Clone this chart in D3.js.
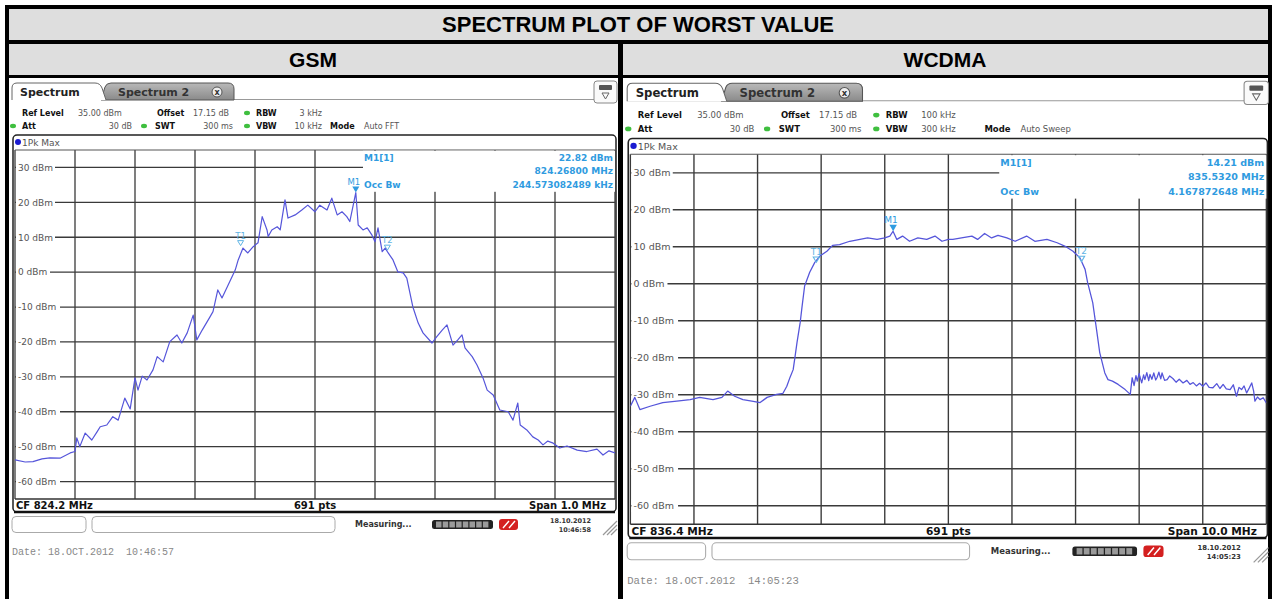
<!DOCTYPE html>
<html>
<head>
<meta charset="utf-8">
<script src="https://cdn.jsdelivr.net/npm/d3@7"></script>
<style>
body { margin: 0; background: #fff; }
svg { display: block; font-family: "DejaVu Sans", Verdana, sans-serif; }
</style>
</head>
<body>
<svg width="1272" height="599"></svg>
<script>
// level ticks of the grid (dBm), ref level 35 dBm, 10 dB/div
var levelTicks = [30, 20, 10, 0, -10, -20, -30, -40, -50, -60];

// GSM trace: offset from CF 824.2 MHz (kHz) and level (dBm)
var gsmOffsetKHz = [-500,-483,-470,-455,-442,-425,-408,-400,-397,-392,-383,-372,-363,-358,-347,-337,-328,-317,-308,-300,
  -295,-288,-280,-270,-263,-253,-242,-230,-222,-213,-203,-197,-188,-175,-170,-162,-155,-142,-133,-128,
  -120,-112,-103,-95,-88,-80,-78,-72,-63,-58,-50,-45,-33,-22,-12,0,8,20,28,37,
  45,53,58,68,72,80,87,95,100,105,112,117,122,130,138,147,153,163,172,180,
  195,203,212,220,230,238,245,250,262,270,280,287,297,308,322,330,338,342,353,363,
  372,380,388,397,408,420,437,453,470,480,490,500];
var gsmLevel = [-53.8,-54.4,-54.3,-53.5,-53.2,-53.3,-51.8,-51.4,-47.5,-50.0,-46.1,-48.1,-45.7,-44.3,-43.8,-41.4,-42.4,-36.1,-39.2,-30.3,
  -33.8,-29.8,-30.9,-28.0,-24.2,-25.7,-19.9,-18.0,-20.3,-17.4,-12.3,-19.4,-16.6,-12.8,-11.3,-5.1,-7.4,-2.7,0.6,3.5,
  6.9,5.5,7.3,8.4,15.9,12.1,10.2,12.1,13.0,12.1,20.7,15.5,16.4,17.8,19.2,17.3,19.2,17.8,21.2,16.4,
  17.3,15.9,14.5,22.8,13.5,12.1,12.7,10.6,8.7,12.7,5.9,6.9,5.5,3.5,0.1,-0.2,-1.7,-9.9,-14.6,-17.4,
  -20.3,-18.5,-16.6,-15.1,-20.9,-19.4,-18.0,-21.7,-24.2,-26.6,-30.3,-33.8,-35.2,-39.5,-40.0,-42.4,-37.5,-43.8,-45.2,-47.2,
  -48.1,-49.5,-48.4,-49.0,-50.4,-49.8,-51.0,-51.4,-50.7,-52.4,-51.2,-51.8];

// WCDMA trace: offset from CF 836.4 MHz (MHz) and level (dBm)
var wcdmaOffsetMHz = [-5.00,-4.93,-4.85,-4.69,-4.49,-4.27,-4.06,-3.91,-3.70,-3.56,-3.47,-3.36,-3.23,-3.09,-2.96,-2.85,-2.70,-2.60,-2.54,-2.49,
  -2.44,-2.41,-2.38,-2.33,-2.30,-2.26,-2.18,-2.10,-2.02,-1.91,-1.82,-1.71,-1.55,-1.39,-1.27,-1.12,-1.00,-0.92,-0.87,-0.81,
  -0.72,-0.61,-0.48,-0.34,-0.21,-0.10,0.00,0.07,0.23,0.37,0.46,0.57,0.68,0.78,0.92,1.05,1.23,1.36,1.55,1.71,
  1.83,1.96,2.07,2.15,2.19,2.27,2.33,2.38,2.46,2.51,2.58,2.67,2.78,2.86,
  2.89,2.92,2.95,2.97,3.00,3.01,3.04,3.07,3.09,3.12,3.15,3.17,3.20,3.23,3.26,3.28,3.31,3.34,3.36,3.40,
  3.44,3.48,3.53,3.58,3.63,3.69,3.75,3.80,3.85,3.90,3.95,4.00,4.05,4.10,4.16,4.22,4.27,4.32,4.37,4.43,
  4.48,4.53,4.57,4.61,4.65,4.69,4.73,4.77,4.80,4.82,4.86,4.90,4.95,5.00];
var wcdmaLevel = [-33.1,-30.7,-34.0,-33.1,-32.1,-31.7,-31.3,-30.7,-31.3,-30.7,-29.0,-30.4,-31.3,-31.7,-32.1,-30.7,-29.9,-29.6,-27.7,-25.3,
  -23.2,-19.6,-15.9,-10.5,-6.1,-0.6,3.1,5.8,7.5,8.8,10.4,10.6,11.5,12.0,12.4,12.0,12.4,12.9,14.2,12.0,
  12.9,11.5,12.4,12.0,12.9,11.5,12.0,12.0,12.5,12.9,12.0,13.6,12.4,13.1,12.4,11.5,12.9,11.5,12.0,11.1,
  10.2,8.8,7.0,3.9,0.3,-5.1,-12.4,-18.6,-24.1,-25.9,-26.3,-27.2,-28.6,-29.9,
  -25.4,-27.5,-24.8,-26.3,-24.2,-25.0,-26.8,-24.6,-25.9,-24.0,-26.2,-24.5,-25.8,-24.1,-26.0,-25.4,-23.9,-25.7,-24.1,-26.1,
  -25.9,-24.9,-25.6,-26.6,-25.8,-26.8,-26.1,-27.2,-26.7,-27.6,-26.9,-27.7,-26.8,-28.0,-28.1,-27.0,-28.3,-27.2,-28.4,-28.6,
  -27.3,-30.4,-28.0,-28.6,-27.6,-29.5,-28.2,-26.8,-29.0,-31.7,-30.6,-31.3,-30.8,-32.2];

// markers: [offset, level]
var gsmMarkers = {M1: [68, 22.82], T1: [-124, 7.6], T2: [120.6, 6.3]};
var wcdmaMarkers = {M1: [-0.868, 14.21], T1: [-2.075, 5.8], T2: [2.093, 6.0]};

var svg = d3.select('svg');
var markerBlue = '#2f9be0';
var traceBlue = '#5555da';

// table frame
svg.append('rect').attr('x', 5).attr('y', 5).attr('width', 1267).attr('height', 600).attr('fill', '#000');
svg.append('rect').attr('x', 9).attr('y', 9).attr('width', 1259).attr('height', 31).attr('fill', '#dedede');
svg.append('rect').attr('x', 9).attr('y', 44).attr('width', 609).attr('height', 31).attr('fill', '#dedede');
svg.append('rect').attr('x', 623).attr('y', 44).attr('width', 645).attr('height', 31).attr('fill', '#dedede');
svg.append('rect').attr('x', 9).attr('y', 78).attr('width', 609).attr('height', 530).attr('fill', '#fff');
svg.append('rect').attr('x', 623).attr('y', 78).attr('width', 645).attr('height', 530).attr('fill', '#fff');

var hdrFont = '"Liberation Sans", Arial, sans-serif';
svg.append('text').attr('x', 638).attr('y', 32).attr('text-anchor', 'middle')
  .attr('font-family', hdrFont).attr('font-weight', 'bold').attr('font-size', 22)
  .text('SPECTRUM PLOT OF WORST VALUE');
svg.append('text').attr('x', 313).attr('y', 67).attr('text-anchor', 'middle')
  .attr('font-family', hdrFont).attr('font-weight', 'bold').attr('font-size', 21).text('GSM');
svg.append('text').attr('x', 945).attr('y', 67).attr('text-anchor', 'middle')
  .attr('font-family', hdrFont).attr('font-weight', 'bold').attr('font-size', 21).text('WCDMA');

var defs = svg.append('defs');
var tg = defs.append('linearGradient').attr('id', 'tabGrad').attr('x1', 0).attr('x2', 0).attr('y1', 0).attr('y2', 1);
tg.append('stop').attr('offset', '0%').attr('stop-color', '#b9b9b9');
tg.append('stop').attr('offset', '100%').attr('stop-color', '#8a8a8a');

function drawPanel(p) {
  var g = svg.append('g').attr('transform', 'translate(' + p.ox + ',' + p.oy + ') scale(' + p.k + ')');
  var gridL = 6, gridR = 606, gridT = 72, gridB = 421;

  var x = d3.scaleLinear().domain([-p.halfSpan, p.halfSpan]).range([gridL, gridR]);
  var y = d3.scaleLinear().domain([35, -65]).range([gridT, gridB]);

  // tab bar
  g.append('line').attr('x1', 3).attr('x2', 585).attr('y1', 21.5).attr('y2', 21.5).attr('stroke', '#999');
  g.append('path').attr('d', 'M92,22 L96,9 Q97.5,5 102,5 H219 Q225,5 225,11 V22 Z')
    .attr('fill', 'url(#tabGrad)').attr('stroke', '#555');
  g.append('path').attr('d', 'M3,22 V10 Q3,5 8,5 H86 Q91,5 93,10 L97,22')
    .attr('fill', '#fff').attr('stroke', '#666');
  g.append('text').attr('x', 11).attr('y', 18).attr('font-size', 11).attr('font-weight', 'bold')
    .attr('fill', '#222').text('Spectrum');
  g.append('text').attr('x', 109).attr('y', 18).attr('font-size', 11).attr('font-weight', 'bold')
    .attr('fill', '#333').text('Spectrum 2');
  g.append('circle').attr('cx', 208).attr('cy', 14).attr('r', 5).attr('fill', '#eee').attr('stroke', '#555');
  g.append('text').attr('x', 208).attr('y', 17).attr('text-anchor', 'middle').attr('font-size', 8)
    .attr('font-weight', 'bold').attr('fill', '#333').text('x');

  // icon box top right
  g.append('rect').attr('x', 585).attr('y', 3).attr('width', 23).attr('height', 22).attr('rx', 3)
    .attr('fill', '#fafafa').attr('stroke', '#888');
  g.append('rect').attr('x', 590).attr('y', 7).attr('width', 13).attr('height', 5).attr('rx', 1).attr('fill', '#555');
  g.append('path').attr('d', 'M593,15 H600 L596.5,21 Z').attr('fill', 'none').attr('stroke', '#666');

  // setting rows
  var rows = [
    [13, 38, 'Ref Level', true, 'start'], [69, 38, '35.00 dBm', false, 'start'],
    [148, 38, 'Offset', true, 'start'], [184, 38, '17.15 dB', false, 'start'],
    [247, 38, 'RBW', true, 'start'], [313, 38, p.rbw, false, 'end'],
    [13, 51, 'Att', true, 'start'], [123, 51, '30 dB', false, 'end'],
    [146, 51, 'SWT', true, 'start'], [224, 51, '300 ms', false, 'end'],
    [247, 51, 'VBW', true, 'start'], [313, 51, p.vbw, false, 'end'],
    [p.modeX, 51, 'Mode', true, 'start'], [p.modeX + 34, 51, p.mode, false, 'start']
  ];
  g.selectAll('.info').data(rows).enter().append('text')
    .attr('x', d => d[0]).attr('y', d => d[1]).attr('font-size', 8)
    .attr('font-weight', d => d[3] ? 'bold' : 'normal')
    .attr('fill', d => d[3] ? '#111' : '#555')
    .attr('text-anchor', d => d[4]).text(d => d[2]);
  g.selectAll('.dot').data([[238, 35], [4, 48], [135, 48], [238, 48]]).enter().append('ellipse')
    .attr('cx', d => d[0]).attr('cy', d => d[1]).attr('rx', 3).attr('ry', 2.2).attr('fill', '#3fbf3f');

  // plot frame
  g.append('rect').attr('x', 4).attr('y', 57).attr('width', 603).attr('height', 377).attr('rx', 4)
    .attr('fill', '#fff').attr('stroke', '#222').attr('stroke-width', 1.5);
  g.append('line').attr('x1', 5).attr('x2', 606).attr('y1', 434).attr('y2', 434).attr('stroke', '#111').attr('stroke-width', 2.5);
  g.append('circle').attr('cx', 9).attr('cy', 64).attr('r', 3).attr('fill', '#1a1ad0');
  g.append('text').attr('x', 13).attr('y', 67.5).attr('font-size', 9).attr('fill', '#555').text('1Pk Max');

  // grid
  var grid = g.append('g');
  grid.selectAll('.vl').data(d3.range(0, 11)).enter().append('line')
    .attr('x1', i => x(-p.halfSpan + i * p.halfSpan / 5)).attr('x2', i => x(-p.halfSpan + i * p.halfSpan / 5))
    .attr('y1', gridT).attr('y2', gridB).attr('stroke', '#3a3a3a').attr('stroke-width', 1.3);
  grid.selectAll('.hl').data(levelTicks).enter().append('line')
    .attr('x1', gridL).attr('x2', gridR).attr('y1', d => y(d)).attr('y2', d => y(d))
    .attr('stroke', '#3a3a3a').attr('stroke-width', 1.3);
  g.append('line').attr('x1', gridL).attr('x2', gridR).attr('y1', gridT).attr('y2', gridT).attr('stroke', '#555');
  g.append('line').attr('x1', gridL).attr('x2', gridR).attr('y1', gridB).attr('y2', gridB).attr('stroke', '#333').attr('stroke-width', 1.3);

  // level labels with white backing
  var lab = g.selectAll('.lab').data(levelTicks).enter().append('g');
  lab.append('rect').attr('x', gridL + 1).attr('y', d => y(d) - 6).attr('height', 12)
    .attr('width', d => (d < 0 ? 44 : d === 0 ? 34 : 39)).attr('fill', '#fff');
  lab.append('text').attr('x', 9).attr('y', d => y(d) + 3.3).attr('font-size', 9).attr('fill', '#555')
    .text(d => d + ' dBm');

  // marker info area
  g.append('rect').attr('x', 354).attr('y', gridT + 0.8).attr('width', gridR - 354).attr('height', 41).attr('fill', '#fff');
  var mt = [[355, 83, 'M1[1]', 'start'], [604, 83, p.m1Level, 'end'], [604, 96, p.m1Freq, 'end'],
            [355, 110, 'Occ Bw', 'start'], [604, 110, p.occBw, 'end']];
  g.selectAll('.mt').data(mt).enter().append('text')
    .attr('x', d => d[0]).attr('y', d => d[1]).attr('text-anchor', d => d[3])
    .attr('font-size', 9).attr('font-weight', 'bold').attr('fill', markerBlue).text(d => d[2]);

  // trace
  g.append('clipPath').attr('id', 'clip' + p.id).append('rect')
    .attr('x', gridL).attr('y', gridT).attr('width', gridR - gridL).attr('height', gridB - gridT);
  var pts = p.offsets.map((o, i) => [o, p.levels[i]]);
  g.append('path').datum(pts).attr('clip-path', 'url(#clip' + p.id + ')')
    .attr('d', d3.line().x(d => x(d[0])).y(d => y(d[1])))
    .attr('fill', 'none').attr('stroke', traceBlue).attr('stroke-width', 1.2).attr('stroke-linejoin', 'round');

  // markers
  var m1 = p.markers.M1;
  g.append('path').attr('d', 'M' + (x(m1[0]) - 3.5) + ',' + (y(m1[1]) - 6) + ' h7 l-3.5,6 Z').attr('fill', markerBlue);
  g.append('text').attr('x', x(m1[0]) - 2).attr('y', y(m1[1]) - 8).attr('text-anchor', 'middle')
    .attr('font-size', 8.5).attr('fill', markerBlue).text('M1');
  ['T1', 'T2'].forEach(function (k) {
    var m = p.markers[k];
    g.append('path').attr('d', 'M' + (x(m[0]) - 3) + ',' + (y(m[1]) - 5) + ' h6 l-3,5 Z')
      .attr('fill', 'none').attr('stroke', '#5fb4e4').attr('stroke-width', 1);
    g.append('text').attr('x', x(m[0])).attr('y', y(m[1]) - 7).attr('text-anchor', 'middle')
      .attr('font-size', 8.5).attr('fill', '#5fb4e4').text(k);
  });

  // bottom row of the frame
  g.append('text').attr('x', 7).attr('y', 431).attr('font-size', 10).attr('font-weight', 'bold').attr('fill', '#111').text(p.cfText);
  g.append('text').attr('x', 306).attr('y', 431).attr('text-anchor', 'middle').attr('font-size', 10).attr('font-weight', 'bold').attr('fill', '#111').text('691 pts');
  g.append('text').attr('x', 597).attr('y', 431).attr('text-anchor', 'end').attr('font-size', 10).attr('font-weight', 'bold').attr('fill', '#111').text(p.spanText);

  // status bar
  g.append('rect').attr('x', 3).attr('y', 438.5).attr('width', 74).attr('height', 16).attr('rx', 4).attr('fill', '#fff').attr('stroke', '#aaa');
  g.append('rect').attr('x', 83).attr('y', 438.5).attr('width', 243).attr('height', 16).attr('rx', 4).attr('fill', '#fff').attr('stroke', '#aaa');
  g.append('text').attr('x', 346).attr('y', 449).attr('font-size', 8).attr('font-weight', 'bold').attr('fill', '#333').text('Measuring...');
  g.append('rect').attr('x', 423).attr('y', 442).attr('width', 61).attr('height', 9).attr('rx', 2.5).attr('fill', '#222');
  g.selectAll('.seg').data(d3.range(8)).enter().append('rect')
    .attr('x', i => 427 + i * 6.7).attr('y', 443.5).attr('width', 5.5).attr('height', 6).attr('fill', '#9a9a9a');
  g.append('rect').attr('x', 490).attr('y', 441).attr('width', 19).attr('height', 11).attr('rx', 3).attr('fill', '#d42020');
  g.append('path').attr('d', 'M494,450 L500,443 M500,450 L506,443').attr('stroke', '#fff').attr('stroke-width', 1.4);
  g.append('text').attr('x', 582).attr('y', 445).attr('text-anchor', 'end').attr('font-size', 6.5).attr('font-weight', 'bold').attr('fill', '#333').text(p.stampDate);
  g.append('text').attr('x', 582).attr('y', 453.5).attr('text-anchor', 'end').attr('font-size', 6.5).attr('font-weight', 'bold').attr('fill', '#333').text(p.stampTime);
  g.selectAll('.grip').data([0, 4, 8]).enter().append('line')
    .attr('x1', d => 594 + d).attr('y1', 457).attr('x2', 608).attr('y2', d => 443 + d)
    .attr('stroke', '#999').attr('stroke-width', 1.2);

  g.append('text').attr('x', 3).attr('y', 477).attr('font-family', '"Liberation Mono", monospace')
    .attr('font-size', 10).attr('fill', '#888').style('white-space', 'pre').text(p.dateLine);
}

drawPanel({
  id: 'gsm', ox: 9, oy: 78, k: 1, halfSpan: 500,
  offsets: gsmOffsetKHz, levels: gsmLevel, markers: gsmMarkers,
  rbw: '3 kHz', vbw: '10 kHz', mode: 'Auto FFT', modeX: 321,
  m1Level: '22.82 dBm', m1Freq: '824.26800 MHz', occBw: '244.573082489 kHz',
  cfText: 'CF 824.2 MHz', spanText: 'Span 1.0 MHz',
  stampDate: '18.10.2012', stampTime: '10:46:58', dateLine: 'Date: 18.OCT.2012  10:46:57'
});
drawPanel({
  id: 'wcdma', ox: 624, oy: 78, k: 1.06, halfSpan: 5,
  offsets: wcdmaOffsetMHz, levels: wcdmaLevel, markers: wcdmaMarkers,
  rbw: '100 kHz', vbw: '300 kHz', mode: 'Auto Sweep', modeX: 340,
  m1Level: '14.21 dBm', m1Freq: '835.5320 MHz', occBw: '4.167872648 MHz',
  cfText: 'CF 836.4 MHz', spanText: 'Span 10.0 MHz',
  stampDate: '18.10.2012', stampTime: '14:05:23', dateLine: 'Date: 18.OCT.2012  14:05:23'
});
</script>
</body>
</html>
